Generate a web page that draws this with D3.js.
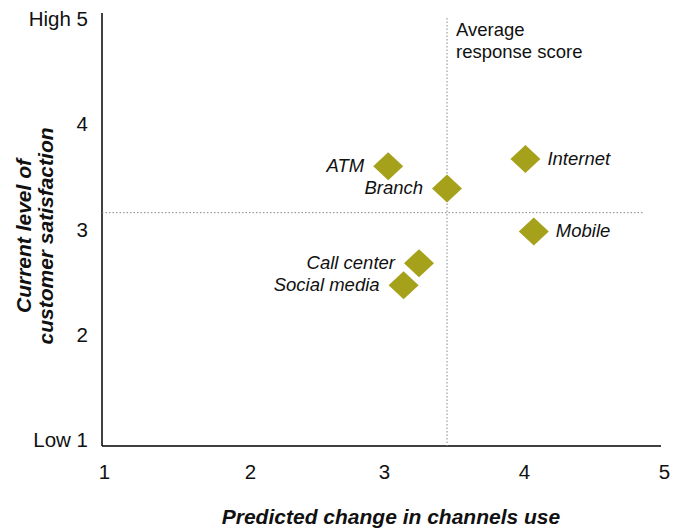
<!DOCTYPE html>
<html><head><meta charset="utf-8">
<script src="https://cdn.jsdelivr.net/npm/d3@7"></script>
<style>
body{margin:0;background:#fff;}
svg{display:block;font-family:"Liberation Sans",Arial,Helvetica,sans-serif;}
</style></head>
<body><svg id="chart" width="683" height="529"></svg>
<script>
const channels = ["ATM","Branch","Internet","Mobile","Call center","Social media"];
const channelUse = [3.03, 3.45, 4.01, 4.07, 3.25, 3.14];
const satisfaction = [3.60, 3.39, 3.67, 2.98, 2.68, 2.47];
const labelSide = ["left","left","right","right","left","left"];
const avgX = 3.45;
const avgY = 3.16;
const xTicks = [1,2,3,4,5];
const yTicks = [1,2,3,4,5];
const yTickLabels = ["Low 1","2","3","4","High 5"];
const xTitle = "Predicted change in channels use";
const yTitle = ["Current level of","customer satisfaction"];
const avgLabel = ["Average","response score"];

(function(){
const svg = d3.select("#chart");
const x = d3.scaleLinear().domain(xTicks).range([104,250,384,524,664]);
const y = d3.scaleLinear().domain([1,5]).range([440,19]);
const pL = 102, pR = 661, pT = 13, pB = 446;

svg.append("line").attr("x1",pL).attr("x2",pL).attr("y1",pT).attr("y2",pB)
  .attr("stroke","#000").attr("stroke-width",1.5);
svg.append("line").attr("x1",pL).attr("x2",pR).attr("y1",pB).attr("y2",pB)
  .attr("stroke","#000").attr("stroke-width",1.5);

const xAxis = d3.axisBottom(x).tickValues(xTicks).tickFormat(d3.format("d")).tickSize(0).tickPadding(0);
const gx = svg.append("g").attr("transform",`translate(0,${pB+18})`).call(xAxis);
gx.select(".domain").remove();
gx.selectAll("text").attr("font-size",20.5).attr("fill","#111").attr("dy","0.71em");

const yAxis = d3.axisLeft(y).tickValues(yTicks).tickFormat((d,i)=>yTickLabels[i]).tickSize(0).tickPadding(0);
const gy = svg.append("g").attr("transform",`translate(88,0)`).call(yAxis);
gy.select(".domain").remove();
gy.selectAll("text").attr("font-size",20.5).attr("fill","#111");

svg.append("line").attr("x1",x(avgX)).attr("x2",x(avgX)).attr("y1",18).attr("y2",pB)
  .attr("stroke","#888").attr("stroke-width",1).attr("stroke-dasharray","1.5,2");
svg.append("line").attr("x1",pL).attr("x2",643).attr("y1",y(avgY)).attr("y2",y(avgY))
  .attr("stroke","#888").attr("stroke-width",1).attr("stroke-dasharray","1.5,2");

svg.append("text").attr("font-size",18.5).attr("fill","#111")
  .selectAll("tspan").data(avgLabel).join("tspan")
  .attr("x",x(avgX)+9).attr("y",(d,i)=>36+i*22).text(d=>d);

const data = channels.map((c,i)=>({c, xv:channelUse[i], yv:satisfaction[i], side:labelSide[i]}));
const hw = 15, hh = 14;
svg.selectAll("path.pt").data(data).join("path").attr("class","pt")
  .attr("d",d=>{const cx=x(d.xv), cy=y(d.yv);
    return `M${cx},${cy-hh}L${cx+hw},${cy}L${cx},${cy+hh}L${cx-hw},${cy}Z`;})
  .attr("fill","#A6A11A");
svg.selectAll("text.lbl").data(data).join("text").attr("class","lbl")
  .attr("x",d=>x(d.xv)+(d.side==="left"?-24:22))
  .attr("y",d=>y(d.yv)).attr("dy","0.3em")
  .attr("text-anchor",d=>d.side==="left"?"end":"start")
  .attr("font-size",18.5).attr("font-style","italic").attr("fill","#111").text(d=>d.c);

svg.append("text").attr("x",391).attr("y",524).attr("text-anchor","middle")
  .attr("font-size",21).attr("font-weight","bold").attr("font-style","italic").attr("fill","#111")
  .text(xTitle);
const yt = svg.append("text").attr("transform","translate(0,236) rotate(-90)")
  .attr("text-anchor","middle").attr("font-size",21).attr("font-weight","bold")
  .attr("font-style","italic").attr("fill","#111");
yt.selectAll("tspan").data(yTitle).join("tspan").attr("x",0).attr("y",(d,i)=>31+i*22).text(d=>d);
})();
</script></body></html>
